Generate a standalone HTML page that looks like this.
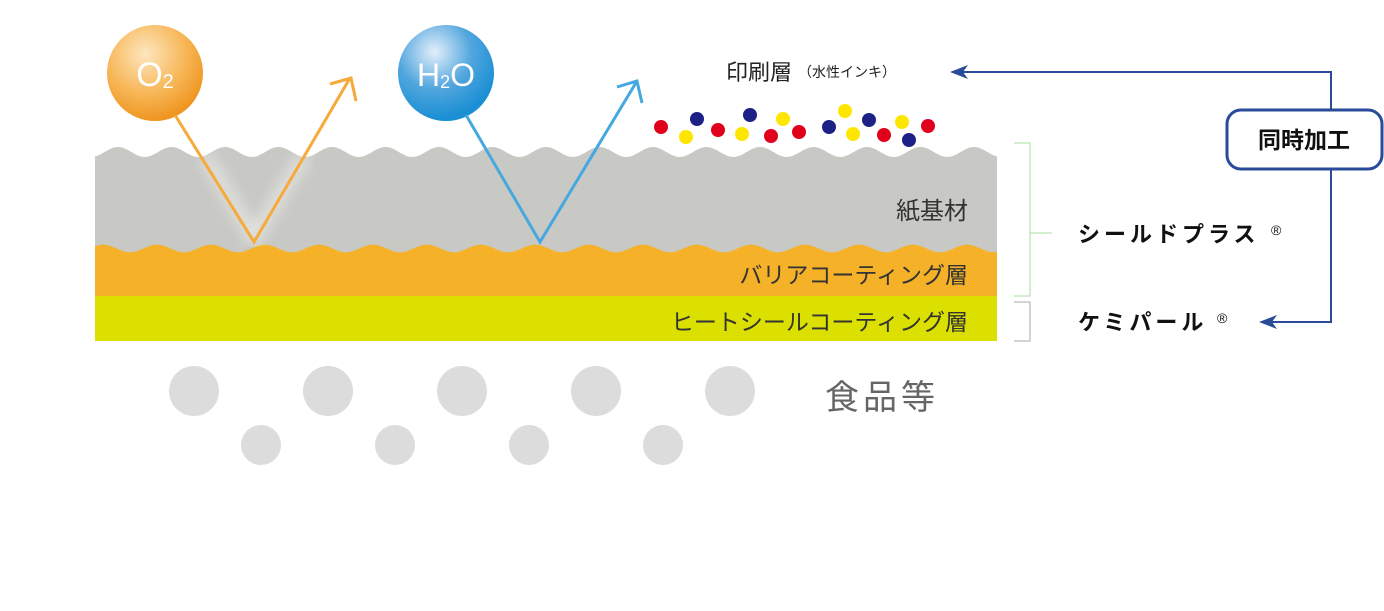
<!DOCTYPE html>
<html><head><meta charset="utf-8"><style>
body{margin:0;background:#fff;width:1384px;height:611px;overflow:hidden}
svg{display:block}
text{font-family:"Liberation Sans","Noto Sans CJK JP",sans-serif}
</style></head><body>
<svg id="s" width="1384" height="611" viewBox="0 0 1384 611" xmlns="http://www.w3.org/2000/svg">
<defs>
<radialGradient id="og" cx="0.4" cy="0.3" r="0.7"><stop offset="0" stop-color="#fde6bf"/><stop offset="0.6" stop-color="#f7b656"/><stop offset="1" stop-color="#ef9520"/></radialGradient>
<radialGradient id="bg" cx="0.38" cy="0.28" r="0.7"><stop offset="0" stop-color="#e3effa"/><stop offset="0.55" stop-color="#52a6de"/><stop offset="1" stop-color="#1a8fd4"/></radialGradient>
<filter id="bl"><feGaussianBlur stdDeviation="7"/></filter>
</defs>
<path id="gray" fill="#c8c8c4"/>
<path id="orange" fill="#f5b229"/>
<rect x="95" y="296" width="902" height="45" fill="#dbe000"/>
<path d="M205 155 L254 238 L305 155" fill="none" stroke="#fff" stroke-width="12" opacity="0.5" filter="url(#bl)"/>
<circle cx="155" cy="73" r="48" fill="url(#og)"/>
<text x="155" y="86" font-size="34" fill="#fff" text-anchor="middle" font-weight="300">O<tspan font-size="20" dy="2">2</tspan></text>
<circle cx="446" cy="73" r="48" fill="url(#bg)"/>
<text x="446" y="86" font-size="32" fill="#fff" text-anchor="middle" font-weight="300">H<tspan font-size="18" dy="2">2</tspan><tspan dy="-2">O</tspan></text>
<polyline points="175,115 254,242 350,78" fill="none" stroke="#f5aa3a" stroke-width="3"/>
<polyline points="330,84 351,78 356,101" fill="none" stroke="#f5aa3a" stroke-width="3"/>
<polyline points="466,115 540,242 637,81" fill="none" stroke="#46a8e0" stroke-width="3"/>
<polyline points="617,87 637,81 642,103" fill="none" stroke="#46a8e0" stroke-width="3"/>
<g>
<circle cx="661" cy="127" r="7" fill="#e0001b"/><circle cx="718" cy="130" r="7" fill="#e0001b"/><circle cx="771" cy="136" r="7" fill="#e0001b"/><circle cx="799" cy="132" r="7" fill="#e0001b"/><circle cx="884" cy="135" r="7" fill="#e0001b"/><circle cx="928" cy="126" r="7" fill="#e0001b"/>
<circle cx="686" cy="137" r="7" fill="#ffe600"/><circle cx="742" cy="134" r="7" fill="#ffe600"/><circle cx="783" cy="119" r="7" fill="#ffe600"/><circle cx="845" cy="111" r="7" fill="#ffe600"/><circle cx="853" cy="134" r="7" fill="#ffe600"/><circle cx="902" cy="122" r="7" fill="#ffe600"/>
<circle cx="697" cy="119" r="7" fill="#1d2087"/><circle cx="750" cy="115" r="7" fill="#1d2087"/><circle cx="829" cy="127" r="7" fill="#1d2087"/><circle cx="869" cy="120" r="7" fill="#1d2087"/><circle cx="909" cy="140" r="7" fill="#1d2087"/>
</g>
<text x="726" y="80" font-size="22" fill="#222">印刷層<tspan font-size="14" dx="6" dy="-3">（水性インキ）</tspan></text>
<text x="968" y="219" font-size="24" fill="#333" text-anchor="end">紙基材</text>
<text x="968" y="283" font-size="23" fill="#333" text-anchor="end">バリアコーティング層</text>
<text x="968" y="330" font-size="23" fill="#333" text-anchor="end">ヒートシールコーティング層</text>
<g fill="#dcdcdc">
<circle cx="194" cy="391" r="25"/><circle cx="328" cy="391" r="25"/><circle cx="462" cy="391" r="25"/><circle cx="596" cy="391" r="25"/><circle cx="730" cy="391" r="25"/>
<circle cx="261" cy="445" r="20"/><circle cx="395" cy="445" r="20"/><circle cx="529" cy="445" r="20"/><circle cx="663" cy="445" r="20"/>
</g>
<text x="825" y="409" font-size="34" fill="#666" letter-spacing="4">食品等</text>
<polyline points="1014,143 1030,143 1030,296 1014,296" fill="none" stroke="#a8dca0" stroke-width="1"/>
<line x1="1030" y1="233" x2="1052" y2="233" stroke="#a8dca0"/>
<polyline points="1014,302 1030,302 1030,341 1014,341" fill="none" stroke="#aaa" stroke-width="1"/>
<text x="1078" y="242" font-size="22" font-weight="bold" fill="#111" letter-spacing="4">シールドプラス</text>
<text x="1271" y="235" font-size="14" fill="#111">®</text>
<text x="1078" y="330" font-size="22" font-weight="bold" fill="#111" letter-spacing="4">ケミパール</text>
<text x="1217" y="323" font-size="14" fill="#111">®</text>
<polyline points="960,72 1331,72 1331,322 1270,322" fill="none" stroke="#2a4a9a" stroke-width="2"/>
<path d="M950 72 L968 65 L963 72 L968 79Z" fill="#2a4a9a"/>
<path d="M1259 322 L1277 315 L1272 322 L1277 329Z" fill="#2a4a9a"/>
<rect x="1227" y="110" width="155" height="59" rx="14" fill="#fff" stroke="#2a4a9a" stroke-width="3"/>
<text x="1304" y="148" font-size="23" font-weight="bold" fill="#111" text-anchor="middle">同時加工</text>
</svg>
<script>
function wave(y0,a,x0,p,from,to){var s=[];for(var x=from;x<=to;x+=2){s.push(x+','+(y0-a*Math.cos(2*Math.PI*(x-x0)/p)).toFixed(1));}return s;}
var t=wave(152,5,118,53.5,95,997),b=wave(248.5,3.8,103,54,95,997);
document.getElementById('gray').setAttribute('d','M'+t.join(' L')+' L997,260 L95,260Z');
document.getElementById('orange').setAttribute('d','M'+b.join(' L')+' L997,297 L95,297Z');
</script>
</body></html>
